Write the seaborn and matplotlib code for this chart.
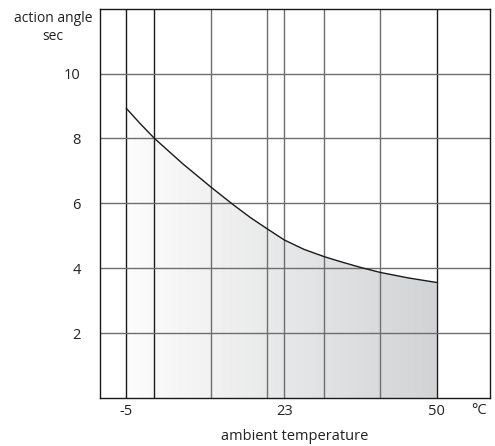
import matplotlib
matplotlib.use("Agg")
import matplotlib.pyplot as plt
import seaborn as sns
import numpy as np
import pandas as pd
from matplotlib.colors import LinearSegmentedColormap

# Curve
temperature = [-5, -2.5, 0, 5, 10, 14, 17, 20, 23, 26.5, 30, 33, 36.4, 40, 45, 50]
angle = [8.93, 8.45, 8.0, 7.22, 6.5, 5.95, 5.56, 5.21, 4.87, 4.58, 4.36, 4.2, 4.03, 3.87, 3.7, 3.56]

x_grid = [-5, 0, 10, 20, 23, 30, 40, 50]
x_ticks = [-5, 23, 50]
y_ticks = [2, 4, 6, 8, 10]

df = pd.DataFrame({"temperature": temperature, "angle": angle})

sns.set_style("white")
plt.rcParams["font.family"] = ["Open Sans", "DejaVu Sans"]
plt.rcParams["axes.unicode_minus"] = False

fig = plt.figure(figsize=(4.95, 4.46), dpi=100)
ax = fig.add_axes([0.2026, 0.1076, 0.787, 0.873])

# grey gradient under the curve
cmap = LinearSegmentedColormap.from_list("g", ["#fdfdfd", "#d2d3d5"])
grad = np.linspace(0, 1, 256).reshape(1, -1)
poly = ax.fill_between(df["temperature"], 0, df["angle"], color="none", lw=0)
img = ax.imshow(grad, extent=[-5, 50, 0, 12], cmap=cmap, aspect="auto",
                origin="lower", zorder=0)
img.set_clip_path(poly.get_paths()[0], transform=ax.transData)

# grid
for xv in x_grid:
    ax.axvline(xv, color="#1a1a1a" if xv in (-5, 0, 50) else "#6e6e6e",
               lw=1.0, zorder=1)
for yv in y_ticks:
    ax.axhline(yv, color="#6e6e6e", lw=1.0, zorder=1)

sns.lineplot(data=df, x="temperature", y="angle", color="#1a1a1a", lw=1.0,
             ax=ax, zorder=3)

ax.set_xlim(-9.6, 59.4)
ax.set_ylim(0, 12)
ax.set_xticks(x_ticks)
ax.set_yticks(y_ticks)
ax.tick_params(axis="x", length=0, pad=4, labelsize=10.5, labelcolor="#222222")
ax.tick_params(axis="y", length=0, pad=14, labelsize=10.5, labelcolor="#222222")
ax.set_xlabel("")
ax.set_ylabel("")
for s in ax.spines.values():
    s.set_color("#1a1a1a")
    s.set_linewidth(1.0)

fig.text(53 / 495, 1 - 18 / 446, "action angle", ha="center", va="center", fontsize=10, color="#222222")
fig.text(53 / 495, 1 - 37 / 446, "sec", ha="center", va="center", fontsize=10, color="#222222")
fig.text(479 / 495, 1 - 410 / 446, "°C", ha="center", va="center", fontsize=10.5, color="#222222")
fig.text(295 / 495, 1 - 437 / 446, "ambient temperature", ha="center", va="center", fontsize=10.5, color="#222222")

fig.savefig("out.png", dpi=100)
